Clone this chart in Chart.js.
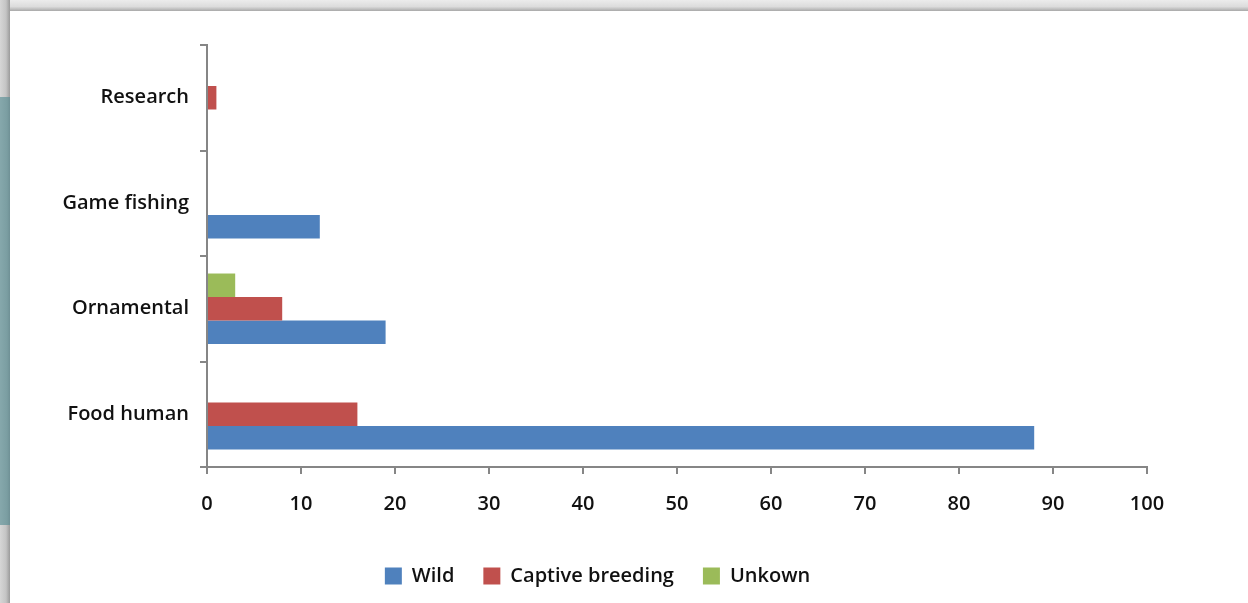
<!DOCTYPE html>
<html>
<head>
<meta charset="utf-8">
<script src="https://cdn.jsdelivr.net/npm/chart.js@4.4.1/dist/chart.umd.min.js"></script>
<style>
  html, body { margin: 0; padding: 0; background: #fff; }
  #wrap { position: relative; width: 1248px; height: 603px; overflow: hidden; background: #fff; }
  #chart { position: absolute; left: 0; top: 0; }
  .band-top { position: absolute; left: 0; top: 0; width: 1248px; height: 11px;
    background: linear-gradient(to bottom, #ececec 0%, #dcdcdc 60%, #a9a9a9 100%); }
  .band-left { position: absolute; left: 0; top: 0; width: 10px; height: 603px;
    background: linear-gradient(to right, #d6d6d6 0%, #c4c4c4 60%, #9a9a9a 100%); }
  .band-teal { position: absolute; left: 0; top: 97px; width: 10px; height: 428px;
    background: linear-gradient(to right, #86a8ac 0%, #7b9ea2 70%, #6f9095 100%); }
</style>
</head>
<body>
<div id="wrap">
  <canvas id="chart" width="1248" height="603"></canvas>
  <div class="band-top"></div>
  <div class="band-left"></div>
  <div class="band-teal"></div>
</div>
<script>
// Uses of the species, by origin of the animals
const categories = ['Research', 'Game fishing', 'Ornamental', 'Food human'];
const wild = [0, 12, 19, 88];
const captiveBreeding = [1, 0, 8, 16];
const unknown = [0, 0, 3, 0];
const xTicks = [0, 10, 20, 30, 40, 50, 60, 70, 80, 90, 100];

const FONT = "'Open Sans', 'Liberation Sans', sans-serif";
const AXIS = '#868686';
const TEXT = { family: FONT, size: 20, weight: 600 };

// Nudge the legend row to the right so it sits centred under the panel
const legendShift = {
  id: 'legendShift',
  afterLayout(chart) {
    if (chart.legend) {
      chart.legend.left += 24;
      chart.legend.right += 24;
    }
  }
};

new Chart(document.getElementById('chart'), {
  type: 'bar',
  data: {
    labels: categories,
    datasets: [
      { label: 'Unkown', data: unknown, backgroundColor: '#9BBB59' },
      { label: 'Captive breeding', data: captiveBreeding, backgroundColor: '#C0504D' },
      { label: 'Wild', data: wild, backgroundColor: '#4F81BD' }
    ]
  },
  plugins: [legendShift],
  options: {
    indexAxis: 'y',
    responsive: false,
    animation: false,
    devicePixelRatio: 1,
    layout: { padding: { left: 0, top: 45, right: 101, bottom: 7 } },
    datasets: {
      bar: { categoryPercentage: 0.668, barPercentage: 1.0, borderWidth: 0 }
    },
    scales: {
      x: {
        min: 0, max: 100,
        afterBuildTicks: s => { s.ticks = xTicks.map(v => ({ value: v })); },
        afterFit: s => { s.height = 70; },
        border: { display: true, color: AXIS, width: 2 },
        grid: { drawOnChartArea: false, drawTicks: true, tickLength: 7, color: AXIS, lineWidth: 2 },
        ticks: { color: '#111', font: TEXT, padding: 18 }
      },
      y: {
        afterFit: s => { s.width = 207; },
        border: { display: true, color: AXIS, width: 2 },
        grid: { offset: true, drawOnChartArea: false, drawTicks: true, tickLength: 7, color: AXIS, lineWidth: 2 },
        ticks: { color: '#111', font: TEXT, padding: 11 }
      }
    },
    plugins: {
      legend: {
        position: 'bottom',
        reverse: true,
        labels: {
          color: '#111',
          font: TEXT,
          boxWidth: 17, boxHeight: 17,
          padding: 29
        }
      },
      tooltip: { enabled: false }
    }
  }
});
</script>
</body>
</html>
